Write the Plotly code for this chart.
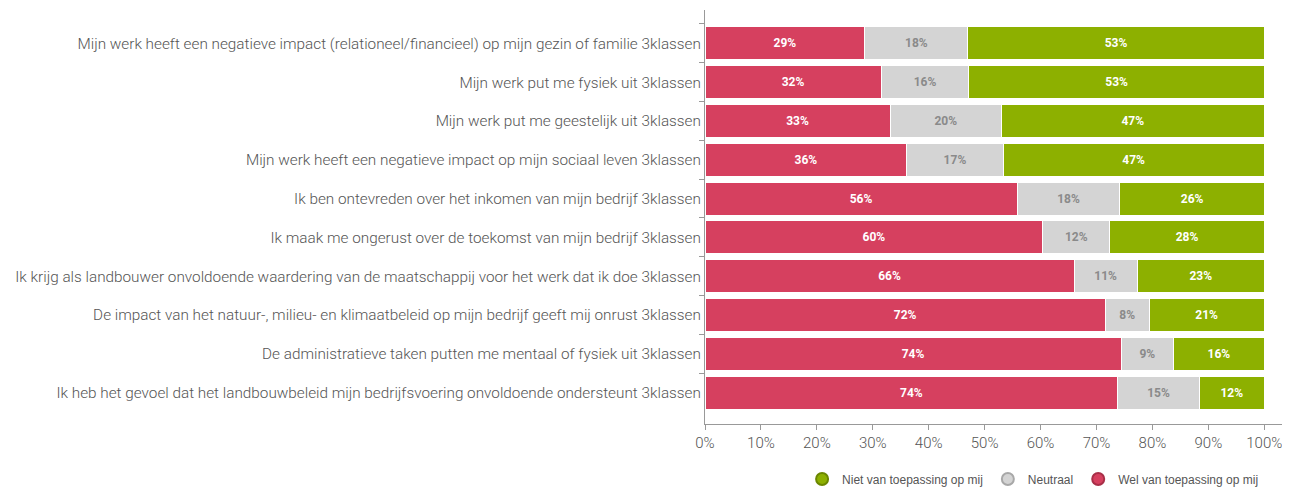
import plotly.graph_objects as go

categories = [
    "Mijn werk heeft een negatieve impact (relationeel/financieel) op mijn gezin of familie 3klassen",
    "Mijn werk put me fysiek uit 3klassen",
    "Mijn werk put me geestelijk uit 3klassen",
    "Mijn werk heeft een negatieve impact op mijn sociaal leven 3klassen",
    "Ik ben ontevreden over het inkomen van mijn bedrijf 3klassen",
    "Ik maak me ongerust over de toekomst van mijn bedrijf 3klassen",
    "Ik krijg als landbouwer onvoldoende waardering van de maatschappij voor het werk dat ik doe 3klassen",
    "De impact van het natuur-, milieu- en klimaatbeleid op mijn bedrijf geeft mij onrust 3klassen",
    "De administratieve taken putten me mentaal of fysiek uit 3klassen",
    "Ik heb het gevoel dat het landbouwbeleid mijn bedrijfsvoering onvoldoende ondersteunt 3klassen",
]
wel = [28.6, 31.5, 33.1, 36.1, 55.8, 60.4, 66.0, 71.6, 74.4, 73.8]
neutraal = [18.4, 15.7, 19.9, 17.2, 18.4, 12.0, 11.3, 7.8, 9.4, 14.6]
niet = [53.0, 52.8, 47.0, 46.7, 25.8, 27.6, 22.7, 20.6, 16.2, 11.6]

series_names = ["Wel van toepassing op mij", "Neutraal", "Niet van toepassing op mij"]
colors = {"Wel van toepassing op mij": "#D6405F",
          "Neutraal": "#D4D4D4",
          "Niet van toepassing op mij": "#8DB000"}
border_colors = {"Wel van toepassing op mij": "#A82F48",
                 "Neutraal": "#A8A8A8",
                 "Niet van toepassing op mij": "#6B8700"}
text_colors = {"Wel van toepassing op mij": "#FFFFFF",
               "Neutraal": "#8A8A8A",
               "Niet van toepassing op mij": "#FFFFFF"}
values = {"Wel van toepassing op mij": wel, "Neutraal": neutraal, "Niet van toepassing op mij": niet}

x_ticks = list(range(0, 101, 10))

fig = go.Figure()
for name in series_names:
    fig.add_trace(go.Bar(
        y=categories, x=values[name], orientation="h", name=name,
        marker=dict(color=colors[name], line=dict(color="white", width=1)),
        texttemplate="%{x:.0f}%", textposition="inside", insidetextanchor="middle",
        textfont=dict(family="Roboto", size=12, color=text_colors[name], weight="bold"),
        showlegend=False, hoverinfo="skip",
    ))

for name in ["Niet van toepassing op mij", "Neutraal", "Wel van toepassing op mij"]:
    fig.add_trace(go.Scatter(
        x=[None], y=[None], mode="markers", name=name,
        marker=dict(symbol="circle", size=15, color=colors[name],
                    line=dict(color=border_colors[name], width=1)),
        showlegend=True,
    ))

fig.update_layout(
    barmode="stack",
    bargap=0.15,
    width=1282, height=480,
    margin=dict(l=697, r=0, t=2, b=64, autoexpand=False),
    plot_bgcolor="white", paper_bgcolor="white",
    font=dict(family="Roboto", color="#555555"),
    legend=dict(orientation="h", x=0.56, xanchor="center", y=-0.133, yanchor="middle",
                font=dict(family="Liberation Sans", size=12, color="#555555"),
                itemsizing="constant", traceorder="normal"),
    xaxis=dict(range=[0, 104.6], tickvals=x_ticks, ticktext=[f"{v}%" for v in x_ticks],
               showgrid=False, zeroline=False, showline=True, linecolor="#999999", linewidth=1,
               ticks="outside", ticklen=5, tickcolor="#999999",
               tickfont=dict(family="Roboto", size=15, color="#555555", weight=300)),
    yaxis=dict(categoryorder="array", categoryarray=categories, range=[9.81, -0.86],
               showgrid=False, zeroline=False, showline=True, linecolor="#999999", linewidth=1,
               ticks="outside", ticklen=5, tickcolor="#999999", tickson="boundaries",
               tickfont=dict(family="Roboto", size=15.3, color="#555555", weight=300)),
)

fig.write_html("out.html")
